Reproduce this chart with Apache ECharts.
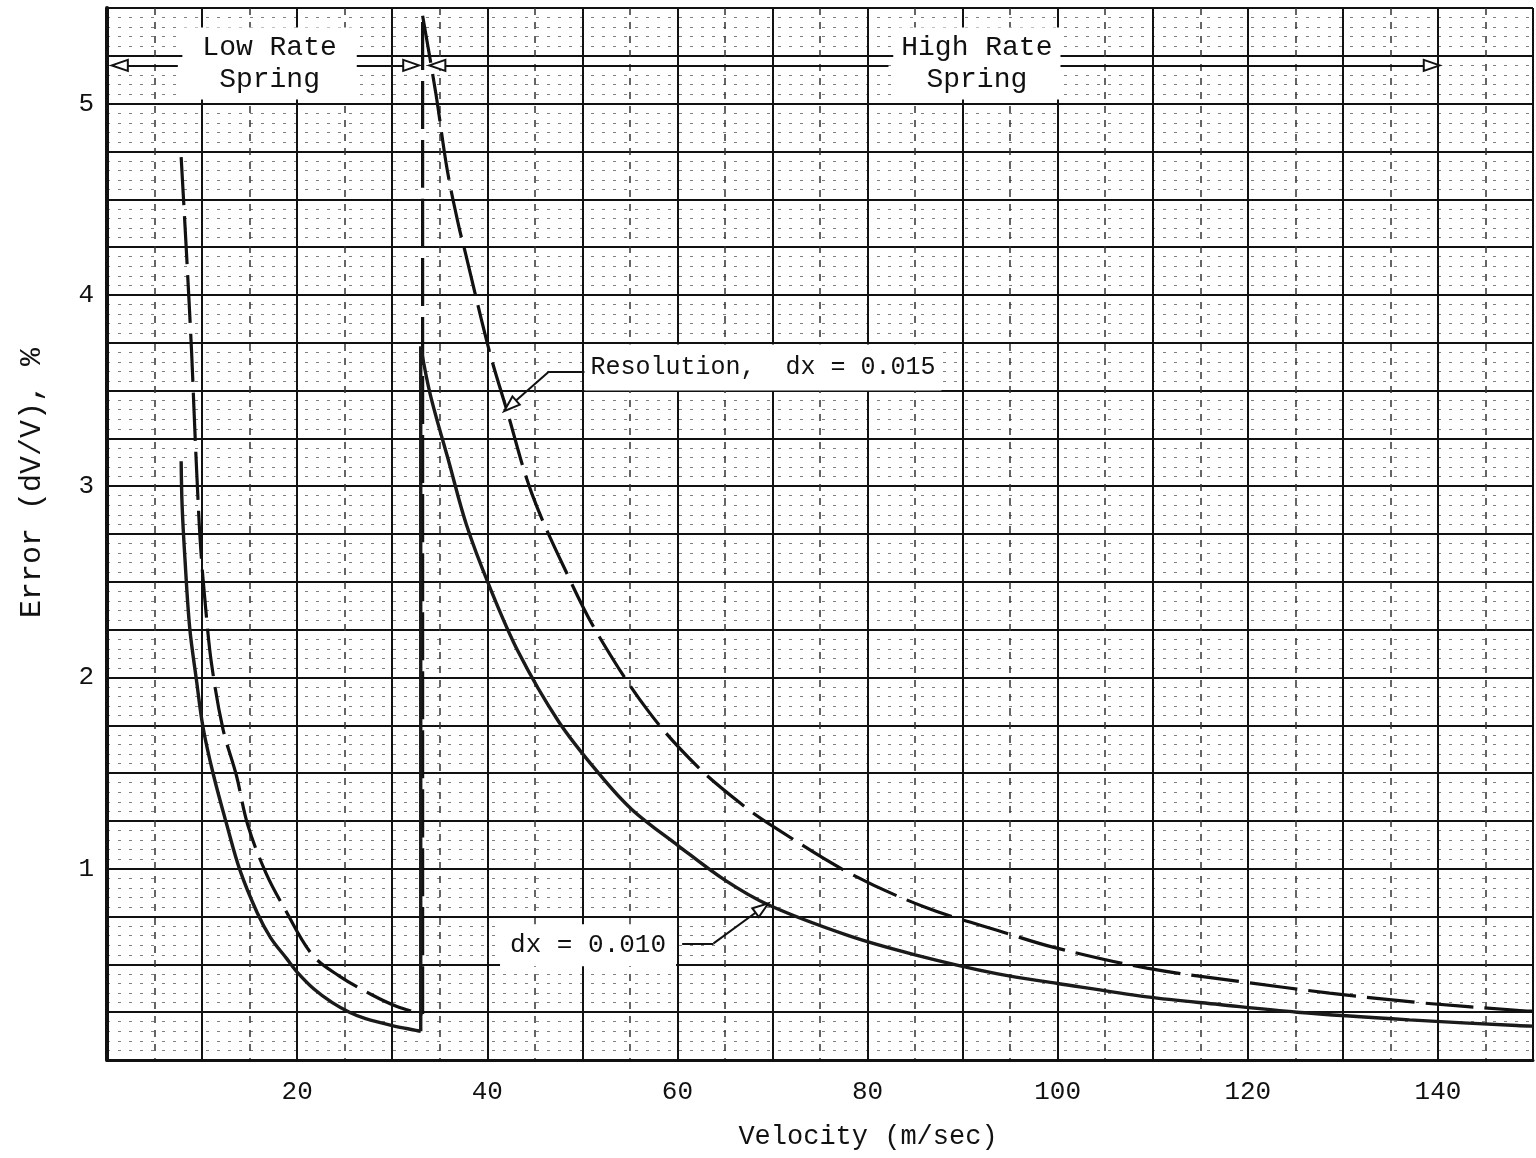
<!DOCTYPE html>
<html>
<head>
<meta charset="utf-8">
<script src="https://cdn.jsdelivr.net/npm/echarts/dist/echarts.min.js"></script>
<style>
html,body{margin:0;padding:0;background:#fff;}
#c{width:1536px;height:1158px;}
</style>
</head>
<body>
<div id="c"></div>
<script>
// ---- Data ----
// dx = 0.010 curve (solid), low-rate spring branch
const velocityLow010 = [7.8, 7.9, 8.2, 8.7, 9.4, 10.1, 11.2, 12.6, 14.0, 15.8, 17.2, 18.9, 20.0, 21.8, 23.7, 25.5, 27.2, 30.0, 32.5, 33.0];
const errorLow010    = [3.13, 2.90, 2.62, 2.26, 1.99, 1.74, 1.49, 1.23, 0.99, 0.77, 0.64, 0.53, 0.46, 0.37, 0.30, 0.25, 0.216, 0.18, 0.155, 0.15];
// dx = 0.010 curve (solid), high-rate spring branch
const velocityHigh010 = [33.0, 34.0, 36.0, 37.8, 40.2, 43.3, 47.5, 51.7, 55.2, 60.1, 65.0, 69.6, 78.0, 85.0, 93.7, 100.0, 109.4, 117.0, 125.2, 137.0, 148.3, 150.0];
const errorHigh010    = [3.73, 3.48, 3.12, 2.80, 2.48, 2.13, 1.77, 1.50, 1.31, 1.12, 0.94, 0.81, 0.65, 0.55, 0.45, 0.40, 0.33, 0.29, 0.25, 0.21, 0.18, 0.177];
// dx = 0.015 curve (dashed), low-rate spring branch
const velocityLow015 = [7.8, 8.35, 8.9, 9.15, 9.45, 9.85, 10.4, 11.0, 12.2, 13.6, 14.8, 16.7, 18.7, 21.6, 24.4, 27.9, 30.5, 33.2];
const errorLow015    = [4.72, 4.23, 3.70, 3.40, 3.06, 2.68, 2.35, 2.07, 1.73, 1.49, 1.23, 0.98, 0.79, 0.55, 0.44, 0.34, 0.28, 0.24];
// dx = 0.015 curve (dashed), high-rate spring branch
const velocityHigh015 = [33.2, 34.6, 35.8, 37.0, 37.7, 40.2, 42.1, 44.7, 48.6, 51.7, 57.0, 62.2, 67.2, 70.1, 78.0, 86.0, 94.8, 99.5, 109.4, 119.2, 128.6, 138.0, 148.3, 150.0];
const errorHigh015    = [5.46, 5.05, 4.65, 4.36, 4.22, 3.71, 3.39, 2.96, 2.52, 2.22, 1.82, 1.53, 1.32, 1.22, 0.98, 0.80, 0.66, 0.59, 0.48, 0.41, 0.35, 0.30, 0.26, 0.255];
// Tick labels shown
const xTickLabels = [20, 40, 60, 80, 100, 120, 140];
const yTickLabels = [1, 2, 3, 4, 5];
// Axis titles and annotation texts
const xTitle = 'Velocity (m/sec)';
const yTitle = 'Error (dV/V), %';
const lowSpringText = 'Low Rate\nSpring';
const highSpringText = 'High Rate\nSpring';
const res015Text = 'Resolution,  dx = 0.015';
const res010Text = 'dx = 0.010';

// ---- Chart ----
const FONT = '"Liberation Mono", "DejaVu Sans Mono", monospace';
const INK = '#111';
const pairs = (xs, ys) => xs.map((x, i) => [x, ys[i]]);
const near = (v, list) => list.some(t => Math.abs(t - v) < 1e-6);
const jump = (xsA, ysA, xsB, ysB) => [[xsA[xsA.length - 1], ysA[ysA.length - 1]], [xsB[0], ysB[0]]];

const chart = echarts.init(document.getElementById('c'), null, {renderer: 'canvas'});

const arrowEnd = {symbol: 'emptyTriangle', symbolSize: [11, 16]};
const solidStyle = {color: '#1a1a1a', width: 3.4};
const dashStyle = {color: INK, width: 3.2, type: [48, 11]};

function curve(name, data, style, z) {
  return {
    name: name, type: 'line', data: data, showSymbol: false, symbol: 'none',
    smooth: 0.35, z: z, lineStyle: style, silent: true
  };
}

const option = {
  animation: false,
  backgroundColor: '#fff',
  grid: {left: 107, right: 0, top: 8, bottom: 98, containLabel: false},
  xAxis: {
    type: 'value', min: 0, max: 150, interval: 10,
    axisLine: {show: true, onZero: false, lineStyle: {color: INK, width: 3}},
    axisTick: {show: false},
    axisLabel: {
      margin: 19, fontFamily: FONT, fontSize: 26, color: INK, hideOverlap: false,
      formatter: v => near(v, xTickLabels) ? String(Math.round(v)) : ''
    },
    splitLine: {show: true, lineStyle: {color: INK, width: 2}},
    minorTick: {show: false, splitNumber: 2},
    minorSplitLine: {show: true, lineStyle: {color: '#333', width: 1.5, type: [7, 7]}}
  },
  yAxis: {
    type: 'value', min: 0, max: 5.5, interval: 0.25,
    axisLine: {show: true, onZero: false, lineStyle: {color: INK, width: 4}},
    axisTick: {show: false},
    axisLabel: {
      margin: 13, fontFamily: FONT, fontSize: 26, color: INK, hideOverlap: false,
      formatter: v => near(v, yTickLabels) ? String(Math.round(v)) : ''
    },
    splitLine: {show: true, lineStyle: {color: INK, width: 2}},
    minorTick: {show: false, splitNumber: 5},
    minorSplitLine: {show: true, lineStyle: {color: '#555', width: 1, type: [3, 8], opacity: 0.75}}
  },
  graphic: [
    {type: 'text', x: 32, y: 483, rotation: Math.PI / 2,
     style: {text: yTitle, font: '30px ' + FONT, fill: INK, align: 'center', verticalAlign: 'middle'}},
    {type: 'text', x: 868, y: 1137,
     style: {text: xTitle, font: '27px ' + FONT, fill: INK, align: 'center', verticalAlign: 'middle'}}
  ],
  series: [
    curve('dx = 0.015 (low)', pairs(velocityLow015, errorLow015), dashStyle, 3),
    curve('dx = 0.015 (jump)', jump(velocityLow015, errorLow015, velocityHigh015, errorHigh015), dashStyle, 3),
    curve('dx = 0.015 (high)', pairs(velocityHigh015, errorHigh015), dashStyle, 3),
    curve('dx = 0.010 (low)', pairs(velocityLow010, errorLow010), solidStyle, 4),
    curve('dx = 0.010 (jump)', jump(velocityLow010, errorLow010, velocityHigh010, errorHigh010), solidStyle, 4),
    Object.assign(curve('dx = 0.010 (high)', pairs(velocityHigh010, errorHigh010), solidStyle, 4), {
      markLine: {
        silent: true, animation: false, symbol: ['none', 'none'],
        label: {show: false},
        lineStyle: {color: INK, width: 2, type: 'solid'},
        data: [
          [{coord: [7.45, 5.2]}, Object.assign({coord: [1.35, 5.2]}, arrowEnd)],
          [{coord: [25.7, 5.2]}, Object.assign({coord: [32.0, 5.2]}, arrowEnd)],
          [{coord: [82.2, 5.2]}, Object.assign({coord: [34.75, 5.2]}, arrowEnd)],
          [{coord: [99.8, 5.2]}, Object.assign({coord: [139.35, 5.2]}, arrowEnd)],
          [{coord: [50.3, 3.60]}, {coord: [46.5, 3.60]}],
          [{coord: [46.5, 3.60]}, Object.assign({coord: [42.4, 3.42]}, arrowEnd)],
          [{coord: [60.5, 0.61]}, {coord: [63.8, 0.61]}],
          [{coord: [63.8, 0.61]}, Object.assign({coord: [68.9, 0.795]}, arrowEnd)]
        ]
      },
      markPoint: {
        silent: true, animation: false, symbol: 'rect', symbolSize: 1,
        itemStyle: {color: 'rgba(0,0,0,0)'},
        label: {show: true, position: 'inside', fontFamily: FONT, color: INK, backgroundColor: '#fff'},
        data: [
          {coord: [17.1, 5.21], label: {formatter: lowSpringText, fontSize: 28, lineHeight: 32, padding: [4, 20], align: 'center'}},
          {coord: [91.5, 5.21], label: {formatter: highSpringText, fontSize: 28, lineHeight: 32, padding: [4, 8], align: 'center'}},
          {coord: [69.0, 3.62], label: {formatter: res015Text, fontSize: 25, lineHeight: 30, padding: [8, 6]}},
          {coord: [50.6, 0.60], label: {formatter: res010Text, fontSize: 26, lineHeight: 30, padding: [6, 10]}}
        ]
      }
    })
  ]
};
chart.setOption(option);
</script>
</body>
</html>
